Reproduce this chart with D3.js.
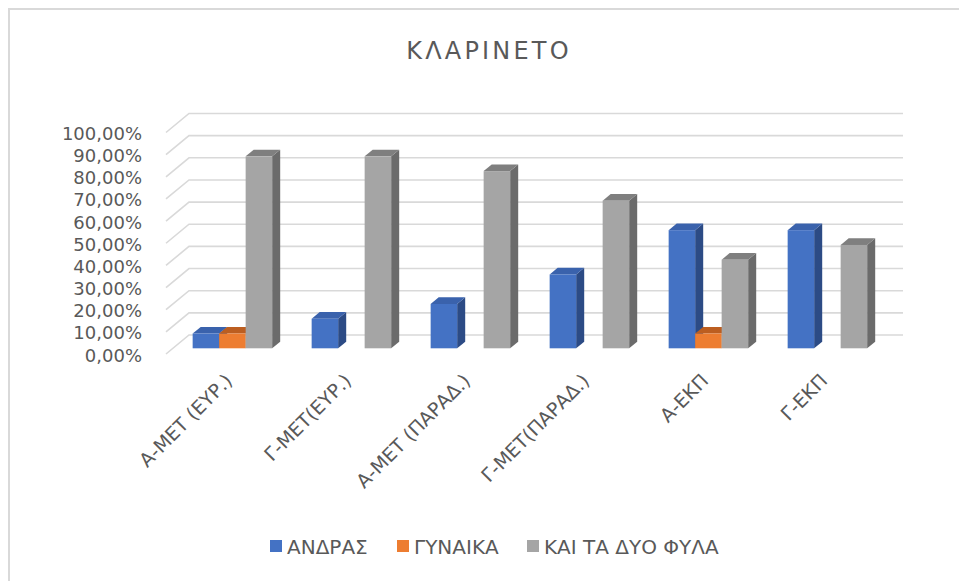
<!DOCTYPE html>
<html>
<head>
<meta charset="utf-8">
<script src="https://cdn.jsdelivr.net/npm/d3@7"></script>
<style>
  html, body { margin: 0; padding: 0; background: #fff; }
  svg text { font-family: "DejaVu Sans", sans-serif; fill: #595959; }
</style>
</head>
<body>
<svg id="chart" width="959" height="581"></svg>
<script>
// ---- data ----
const title = "ΚΛΑΡΙΝΕΤΟ";
const categories = ["Α-ΜΕΤ (ΕΥΡ.)", "Γ-ΜΕΤ(ΕΥΡ.)", "Α-ΜΕΤ (ΠΑΡΑΔ.)", "Γ-ΜΕΤ(ΠΑΡΑΔ.)", "Α-ΕΚΠ", "Γ-ΕΚΠ"];
const seriesNames = ["ΑΝΔΡΑΣ", "ΓΥΝΑΙΚΑ", "ΚΑΙ ΤΑ ΔΥΟ ΦΥΛΑ"];
const andras  = [0.0667, 0.1333, 0.2000, 0.3333, 0.5333, 0.5333];
const gynaika = [0.0667, 0,      0,      0,      0.0667, 0     ];
const kaiTa   = [0.8667, 0.8667, 0.8000, 0.6667, 0.4000, 0.4667];
const yTicks  = [0, 0.1, 0.2, 0.3, 0.4, 0.5, 0.6, 0.7, 0.8, 0.9, 1.0];

const seriesValues = [andras, gynaika, kaiTa];
const colors = [
  {front: "#4472C4", top: "#3A62AC", side: "#2C4B85"},
  {front: "#ED7D31", top: "#BC5E20", side: "#A4521C"},
  {front: "#A5A5A5", top: "#7F7F7F", side: "#6B6B6B"}
];

const svg = d3.select("#chart");

// border (top / left visible)
svg.append("rect").attr("x", 9).attr("y", 9).attr("width", 1000).attr("height", 1000)
  .attr("fill", "none").attr("stroke", "#D9D9D9").attr("stroke-width", 2);

// ---- 3D geometry ----
const X0 = 166, X1 = 880, Y0 = 354;
const depth = {dx: 23, dy: -19};
const barFront = 0.30, barBack = 0.65;

const x = d3.scaleBand().domain(categories).range([X0, X1]).paddingInner(0.332).paddingOuter(0.166);
const xs = d3.scaleBand().domain(d3.range(seriesNames.length)).range([0, x.bandwidth()]);
const y = d3.scaleLinear().domain([0, 1]).range([Y0, Y0 - 221.5]);

// gridlines: side wall diagonal + back wall horizontal
const grid = svg.append("g").attr("stroke", "#D9D9D9").attr("stroke-width", 1.6).attr("fill", "none");
yTicks.forEach(t => {
  const yf = y(t);
  grid.append("path").attr("d",
    `M${X0},${yf} L${X0 + depth.dx},${yf + depth.dy} L${X1 + depth.dx},${yf + depth.dy}`);
});

// y labels
svg.append("g").selectAll("text").data(yTicks).join("text")
  .attr("x", 142).attr("y", d => y(d) + 1)
  .attr("text-anchor", "end").attr("dominant-baseline", "central")
  .attr("font-size", 18)
  .text(d => d3.format(".2f")(d * 100).replace(".", ",") + "%");

// bars
const bars = svg.append("g");
const fdx = depth.dx * barFront, fdy = depth.dy * barFront;
const bdx = depth.dx * (barBack - barFront), bdy = depth.dy * (barBack - barFront);
categories.forEach((c, i) => {
  seriesValues.forEach((vals, s) => {
    const v = vals[i];
    if (!v) return;
    const xl = x(c) + xs(s) + fdx, w = xs.bandwidth();
    const yb = y(0) + fdy, yt = y(v) + fdy;
    const col = colors[s];
    const g = bars.append("g");
    g.append("path").attr("fill", col.side).attr("d",
      `M${xl + w},${yt} L${xl + w + bdx},${yt + bdy} L${xl + w + bdx},${yb + bdy} L${xl + w},${yb} Z`);
    g.append("path").attr("fill", col.top).attr("d",
      `M${xl},${yt} L${xl + bdx},${yt + bdy} L${xl + w + bdx},${yt + bdy} L${xl + w},${yt} Z`);
    g.append("rect").attr("fill", col.front)
      .attr("x", xl).attr("y", yt).attr("width", w).attr("height", yb - yt);
  });
});

// x labels rotated -45
svg.append("g").selectAll("text").data(categories).join("text")
  .attr("text-anchor", "end")
  .attr("font-size", 19)
  .attr("transform", d => `translate(${x(d) + x.bandwidth() / 2 + 8},${382}) rotate(-45)`)
  .text(d => d);

// title
svg.append("text").attr("x", 489).attr("y", 59).attr("text-anchor", "middle")
  .attr("font-size", 24).attr("letter-spacing", 3.2).text(title);

// legend
const legendX = [270, 397, 527];
const lg = svg.append("g");
seriesNames.forEach((n, s) => {
  lg.append("rect").attr("x", legendX[s]).attr("y", 540).attr("width", 12).attr("height", 12)
    .attr("fill", colors[s].front);
  lg.append("text").attr("x", legendX[s] + 17).attr("y", 547).attr("dominant-baseline", "central")
    .attr("font-size", 20).text(n);
});
</script>
</body>
</html>
